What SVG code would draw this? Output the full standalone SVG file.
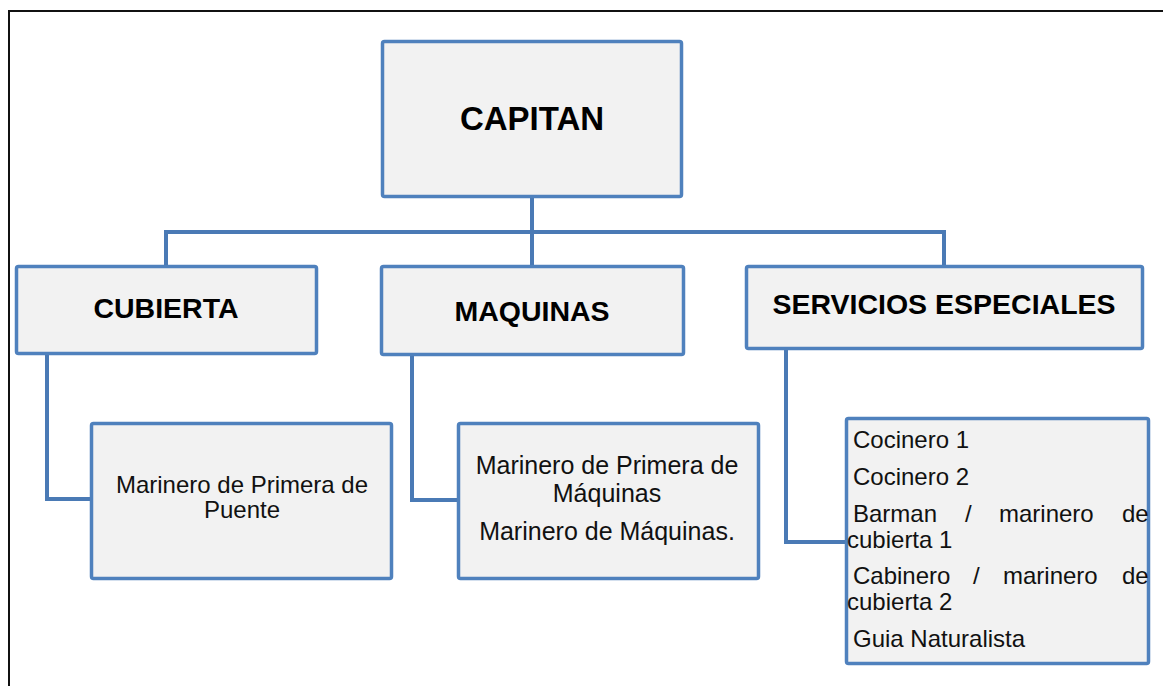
<svg xmlns="http://www.w3.org/2000/svg" width="1163" height="686" viewBox="0 0 1163 686">
<style>
.box{fill:#F2F2F2;stroke:#4F81BD;stroke-width:3.5}
.conn{fill:none;stroke:#4A7AB5;stroke-width:4;stroke-linejoin:miter}
.h{font-family:"Liberation Sans",Arial,sans-serif;font-weight:bold;fill:#000;text-anchor:middle}
.t{font-family:"Liberation Sans",Arial,sans-serif;fill:#111}
.c{text-anchor:middle}
</style>
<rect width="1163" height="686" fill="#fff"/>
<path d="M9,686 V11 H1163" fill="none" stroke="#111" stroke-width="2"/>
<g id="connectors">
<path class="conn" d="M166,265 V232 H944 V265"/>
<path class="conn" d="M532,198 V265"/>
<path class="conn" d="M47,355 V499 H91"/>
<path class="conn" d="M412,356 V500 H457"/>
<path class="conn" d="M786,350 V542 H845"/>
</g>
<g id="capitan">
<rect class="box" x="382.5" y="41.5" width="299" height="155" rx="2"/>
<text class="h" x="532" y="130" font-size="33">CAPITAN</text>
</g>
<g id="cubierta">
<rect class="box" x="16.5" y="266.5" width="300" height="87" rx="2"/>
<text class="h" x="166" y="318" font-size="28.5">CUBIERTA</text>
</g>
<g id="maquinas">
<rect class="box" x="381.5" y="266.5" width="302" height="88" rx="2"/>
<text class="h" x="532" y="321" font-size="28.5">MAQUINAS</text>
</g>
<g id="servicios">
<rect class="box" x="746.5" y="266.5" width="396" height="82" rx="2"/>
<text class="h" x="944" y="314" font-size="28.5">SERVICIOS ESPECIALES</text>
</g>
<g id="cubierta-child">
<rect class="box" x="91.5" y="423.5" width="300" height="155" rx="2"/>
<text class="t c" font-size="24"><tspan x="242" y="493">Marinero de Primera de</tspan><tspan x="242" y="518">Puente</tspan></text>
</g>
<g id="maquinas-child">
<rect class="box" x="458.5" y="423.5" width="300" height="155" rx="2"/>
<text class="t c" font-size="25"><tspan x="607" y="474">Marinero de Primera de</tspan><tspan x="607" y="502">Máquinas</tspan><tspan x="607" y="540">Marinero de Máquinas.</tspan></text>
</g>
<g id="servicios-child">
<rect class="box" x="846.5" y="418.5" width="302" height="245" rx="2"/>
<text class="t" font-size="24">
<tspan x="853" y="448">Cocinero 1</tspan>
<tspan x="853" y="485">Cocinero 2</tspan>
<tspan x="853" y="522">Barman</tspan><tspan x="965" y="522">/</tspan><tspan x="999" y="522">marinero</tspan><tspan x="1122" y="522">de</tspan>
<tspan x="847" y="548">cubierta 1</tspan>
<tspan x="853" y="584">Cabinero</tspan><tspan x="973" y="584">/</tspan><tspan x="1003" y="584">marinero</tspan><tspan x="1122" y="584">de</tspan>
<tspan x="847" y="610">cubierta 2</tspan>
<tspan x="853" y="647">Guia Naturalista</tspan>
</text>
</g>
</svg>
